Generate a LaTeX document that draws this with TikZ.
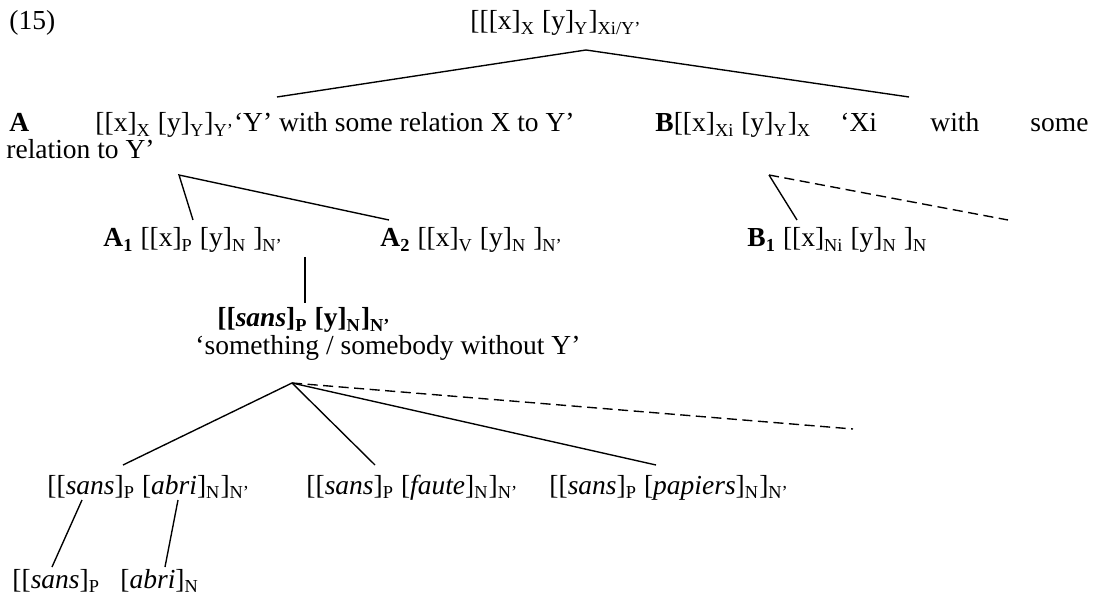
\documentclass[tikz,border=0pt]{standalone}
\usepackage{fontspec}
\setmainfont{Liberation Serif}
\usetikzlibrary{positioning}
\newcommand{\sbs}[1]{\textsubscript{#1}}

\begin{document}
\begin{tikzpicture}[
      x=0.4364pt, y=-0.4364pt,
      font=\fontsize{12}{14}\selectfont,
      txt/.style={inner sep=0pt, anchor=base west},
      branch/.style={line width=0.6pt},
      ghost/.style={branch, dash pattern=on 4.4pt off 2.4pt},
    ]
    \useasboundingbox (0,0) rectangle (1095,594);
    % number and root
    \node[txt] (num) at (9,30) {(15)};
    \node[txt] (root) at (470,30) {[[[x]\sbs{X} [y]\sbs{Y}]\sbs{Xi/Y’}};
    % first split: A and B
    \node[txt] (a) at (9,132) {\textbf{A}};
    \node[txt] (aform) at (95,132) {[[x]\sbs{X} [y]\sbs{Y}]\sbs{Y’}‘Y’ with some relation X to Y’};
    \node[txt] (b) at (655,132) {\textbf{B}[[x]\sbs{Xi} [y]\sbs{Y}]\sbs{X}};
    \node[txt] (bxi) at (840,132) {‘Xi};
    \node[txt] (bwith) at (930,132) {with};
    \node[txt] (bsome) at (1030,132) {some};
    \node[txt] (brel) at (6,159) {relation to Y’};
    % second level
    \node[txt] (a1) at (103,247) {\textbf{A\sbs{1}} [[x]\sbs{P} [y]\sbs{N} ]\sbs{N’}};
    \node[txt] (a2) at (380,247) {\textbf{A\sbs{2}} [[x]\sbs{V} [y]\sbs{N} ]\sbs{N’}};
    \node[txt] (b1) at (747,247) {\textbf{B\sbs{1}} [[x]\sbs{Ni} [y]\sbs{N} ]\sbs{N}};
    % the sans construction
    \node[txt] (sansy) at (217,327) {\textbf{[[\textit{sans}]\sbs{P} [y]\sbs{N}]\sbs{N’}}};
    \node[txt] (gloss) at (195,355) {‘something / somebody without Y’};
    % instances
    \node[txt] (abri) at (47,494) {[[\textit{sans}]\sbs{P} [\textit{abri}]\sbs{N}]\sbs{N’}};
    \node[txt] (faute) at (306,494) {[[\textit{sans}]\sbs{P} [\textit{faute}]\sbs{N}]\sbs{N’}};
    \node[txt] (papiers) at (549,494) {[[\textit{sans}]\sbs{P} [\textit{papiers}]\sbs{N}]\sbs{N’}};
    % parts of sans abri
    \node[txt] (psans) at (12,588) {[[\textit{sans}]\sbs{P}};
    \node[txt] (nabri) at (120,588) {[\textit{abri}]\sbs{N}};
    % branch points
    \coordinate (rootfoot) at (586,50);
    \coordinate (atop) at (277,97);
    \coordinate (btop) at (909,97);
    \coordinate (afoot) at (179,175);
    \coordinate (a1top) at (193,220);
    \coordinate (a2top) at (389,220);
    \coordinate (bfoot) at (769,175);
    \coordinate (b1top) at (797,220);
    \coordinate (bmore) at (1008,220);
    \coordinate (a1foot) at (305,257);
    \coordinate (sanstop) at (305,303);
    \coordinate (gfoot) at (292,383);
    \coordinate (abritop) at (123,465);
    \coordinate (fautetop) at (375,465);
    \coordinate (paptop) at (656,465);
    \coordinate (gmore) at (853,429);
    \coordinate (abrifootl) at (82,500);
    \coordinate (abrifootr) at (178,500);
    \coordinate (psanstop) at (52,567);
    \coordinate (nabritop) at (165,567);
    % branches
    \draw[branch] (atop) -- (rootfoot) -- (btop);
    \draw[branch] (a1top) -- (afoot) -- (a2top);
    \draw[branch] (bfoot) -- (b1top);
    \draw[ghost] (bfoot) -- (bmore);
    \draw[branch] (a1foot) -- (sanstop);
    \draw[branch] (gfoot) -- (abritop);
    \draw[branch] (gfoot) -- (fautetop);
    \draw[branch] (gfoot) -- (paptop);
    \draw[ghost] (gfoot) -- (gmore);
    \draw[branch] (abrifootl) -- (psanstop);
    \draw[branch] (abrifootr) -- (nabritop);
\end{tikzpicture}
\end{document}
